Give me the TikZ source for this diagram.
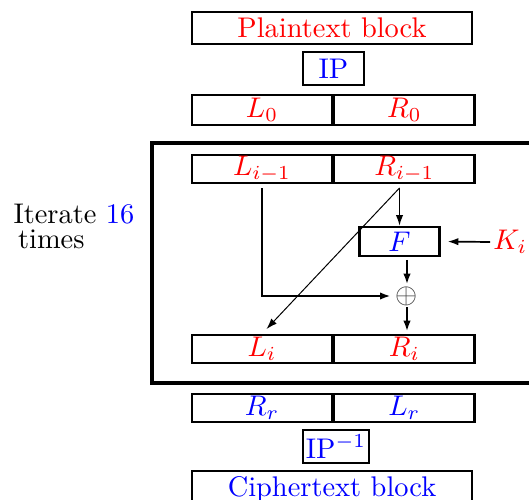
\documentclass[tikz,border=0pt]{standalone}
\usetikzlibrary{positioning,arrows.meta}
\tikzset{
    box/.style={draw, line width=0.8pt, inner sep=0pt},
    half/.style={box, minimum width=49.3pt, minimum height=9.9pt, text=red},
    wide/.style={box, minimum width=98.6pt, minimum height=11.2pt},
    flow/.style={-{Latex[length=3.8pt,width=2.6pt]}}
}

\begin{document}
\begin{tikzpicture}[x=0.352pt, y=-0.352pt]
\useasboundingbox (0,0) rectangle (529,499);

\node[wide, text=red] (plain) at (332,28) {Plaintext block};
\node[box, minimum width=21.5pt, minimum height=11.6pt, text=blue] (ip) at (333.5,68.5) {IP};
\node[half, minimum height=10.6pt] (L0) at (262,110) {$L_0$};
\node[half, minimum height=10.6pt, right=0pt of L0] (R0) {$R_0$};

\draw[line width=1.1pt] (152,143) rectangle (545,383);
\node[align=left, inner sep=0pt, anchor=north west] (iter) at (13,204)
    {Iterate \textcolor{blue}{16}\\[-3.4pt]\hspace*{1.6pt}times};

\node[half] (Lprev) at (262,169) {$L_{i-1}$};
\node[half, right=0pt of Lprev] (Rprev) {$R_{i-1}$};
\node[box, minimum width=28.2pt, minimum height=10.2pt, text=blue] (F) at (399.5,241.5) {$F$};
\node[text=red, anchor=west, inner sep=1pt] (K) at (490,242) {$K_i$};
\node[inner sep=0pt, text=black!75] (xor) at (407,296) {$\oplus$};
\node[half] (Lnext) at (262,349) {$L_i$};
\node[half, right=0pt of Lnext] (Rnext) {$R_i$};

\node[half, text=blue] (Rr) at (262,408) {$R_r$};
\node[half, text=blue, right=0pt of Rr] (Lr) {$L_r$};
\node[box, minimum width=23.2pt, minimum height=11.6pt, text=blue] (ipinv) at (336,446.5) {IP$^{-1}$};
\node[wide, minimum height=12.7pt, text=blue] (cipher) at (332,489) {Ciphertext block};

\coordinate (split) at (399.5,188);
\draw[flow, line width=0.55pt] (split) -- (F.north);
\draw[flow, line width=0.35pt, shorten >=2.3pt] (split) -- (Lnext.north);
\draw[flow, line width=0.8pt, shorten <=1.4pt, shorten >=1.6pt] (Lprev.south) |- (xor.west);
\draw[flow, line width=1pt, shorten <=1pt, shorten >=0.5pt] (xor.north |- F.south) -- (xor.north);
\draw[flow, line width=1pt, shorten <=0.5pt, shorten >=0.8pt] (xor.south) -- (xor.south |- Rnext.north);
\draw[flow, line width=0.6pt, shorten >=2.4pt] (K.west) -- (F.east);
\end{tikzpicture}
\end{document}
